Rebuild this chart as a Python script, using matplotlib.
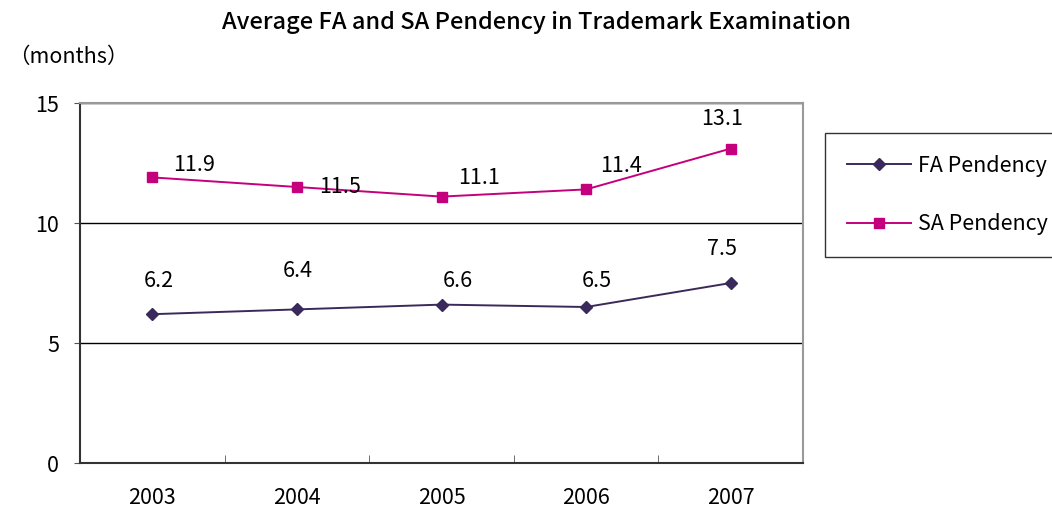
import matplotlib
matplotlib.use('Agg')
import matplotlib.pyplot as plt
from matplotlib.ticker import FixedLocator

plt.rcParams['font.family'] = ['Noto Sans CJK JP', 'DejaVu Sans']

years = ['2003', '2004', '2005', '2006', '2007']
fa = [6.2, 6.4, 6.6, 6.5, 7.5]
sa = [11.9, 11.5, 11.1, 11.4, 13.1]

# label offsets in pixels (dx, dy)
fa_off = [(7, 33), (1, 38), (16, 24), (11, 26), (-9, 34)]
sa_off = [(42, 12), (43, 0), (38, 19), (35, 23), (-9, 30)]

fa_col = '#3A2A5C'
sa_col = '#C4007C'
fs = 15.5

fig = plt.figure(figsize=(10.52, 5.07), dpi=100)
ax = fig.add_axes([80/1052, 44/507, 723/1052, 360/507])

x = list(range(len(years)))
ax.plot(x, fa, color=fa_col, marker='D', markersize=6.5, lw=1.4, label='FA Pendency')
ax.plot(x, sa, color=sa_col, marker='s', markersize=7, lw=1.4, label='SA Pendency')

for i in x:
    ax.annotate(str(fa[i]), (i, fa[i]), xytext=fa_off[i], textcoords='offset pixels',
                ha='center', va='center', fontsize=fs)
    ax.annotate(str(sa[i]), (i, sa[i]), xytext=sa_off[i], textcoords='offset pixels',
                ha='center', va='center', fontsize=fs)

ax.set_xlim(-0.5, 4.5)
ax.set_ylim(0, 15)
ax.set_yticks([0, 5, 10, 15])
ax.set_yticklabels(['0', '5', '10', '15'], fontsize=fs)
ax.yaxis.grid(True, color='black', lw=1)
ax.set_axisbelow(True)

ax.set_xticks(x)
ax.set_xticklabels(years, fontsize=fs)
ax.xaxis.set_minor_locator(FixedLocator([0.5, 1.5, 2.5, 3.5]))
ax.tick_params(axis='x', which='major', length=0, pad=17)
ax.tick_params(axis='x', which='minor', direction='in', length=6, color='#555555')
ax.tick_params(axis='y', length=4, pad=11, color='#555555')

for s in ['top', 'right']:
    ax.spines[s].set_color('#999999')
    ax.spines[s].set_linewidth(1.5)
ax.spines['left'].set_color('#333333')
ax.spines['bottom'].set_color('#333333')
ax.spines['left'].set_linewidth(1.5)
ax.spines['bottom'].set_linewidth(1.5)

leg = fig.legend(loc='upper left', bbox_to_anchor=(825/1052, 1 - 133/507), fontsize=fs,
                 frameon=True, fancybox=False, edgecolor='black', handlelength=3.0,
                 labelspacing=1.7, borderpad=1.0, handletextpad=0.3, borderaxespad=0)
leg.get_frame().set_linewidth(1.0)

fig.text(536/1052, 1 - 23/507, 'Average FA and SA Pendency in Trademark Examination',
         ha='center', va='center', fontsize=17, fontweight='medium')
fig.text(8/1052, 1 - 57/507, '（months）', ha='left', va='center', fontsize=fs)

fig.savefig('out.png', dpi=100)
